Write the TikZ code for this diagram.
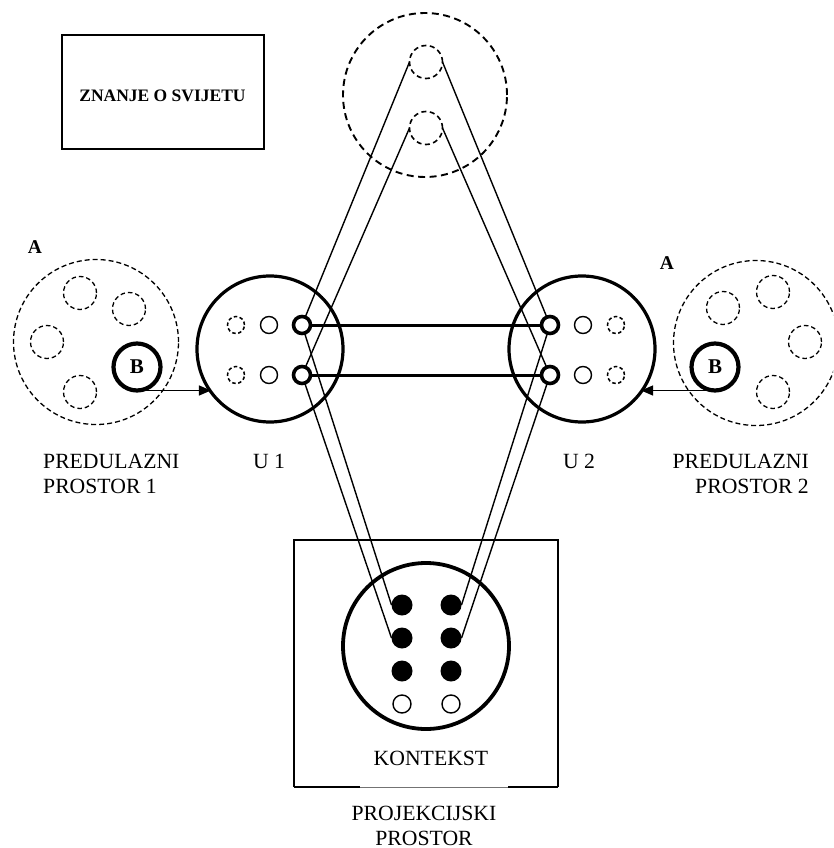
\documentclass[tikz,border=0pt]{standalone}
\usepackage{fontspec}
\setmainfont{Liberation Serif}
\usetikzlibrary{arrows.meta}
\begin{document}
\begin{tikzpicture}[x=1pt,y=-1pt,
  link/.style={line width=1.4pt},
  bond/.style={line width=3pt},
  feed/.style={line width=1.3pt,-{Triangle[length=12pt,width=10pt]}},
  ucirc/.style={circle,draw,line width=3.2pt,minimum size=146pt,inner sep=0pt,outer sep=0pt},
  kcirc/.style={circle,draw,line width=3.8pt,minimum size=166pt,inner sep=0pt,outer sep=0pt},
  ring/.style={circle,draw,line width=3.6pt,minimum size=17pt,inner sep=0pt,outer sep=0pt},
  hollow/.style={circle,draw,line width=1.4pt,minimum size=17pt,inner sep=0pt,outer sep=0pt},
  ghost/.style={circle,draw,line width=1.5pt,dash pattern=on 3.5pt off 2.5pt,minimum size=17pt,inner sep=0pt,outer sep=0pt},
  dotk/.style={circle,fill=black,minimum size=21pt,inner sep=0pt,outer sep=0pt},
  space/.style={circle,draw,line width=1.3pt,dash pattern=on 5pt off 3pt,minimum size=165pt,inner sep=0pt,outer sep=0pt},
  spot/.style={circle,draw,line width=1.3pt,dash pattern=on 4.5pt off 3pt,minimum size=33pt,inner sep=0pt,outer sep=0pt},
  world/.style={circle,draw,line width=1.9pt,dash pattern=on 7pt off 4.5pt,minimum size=164pt,inner sep=0pt,outer sep=0pt},
  wspot/.style={circle,draw,line width=1.6pt,dash pattern=on 5pt off 3.5pt,minimum size=33pt,inner sep=0pt,outer sep=0pt},
  bcirc/.style={circle,draw,line width=4.2pt,minimum size=47pt,inner sep=0pt,outer sep=0pt,font=\fontsize{21}{23}\selectfont\bfseries},
  lbl/.style={inner sep=0pt,font=\fontsize{21.7}{25}\selectfont},
  blbl/.style={inner sep=0pt,font=\fontsize{19.5}{21}\selectfont\bfseries},
  frame/.style={line width=1.4pt}
]
\useasboundingbox (0,0) rectangle (833,848);
\clip (0,0) rectangle (833,848);

% knowledge-of-the-world box
\node[draw,frame,minimum width=202pt,minimum height=114pt,inner sep=0pt] (znanje) at (163,92) {};
\node[inner sep=0pt,font=\fontsize{17.5}{20}\selectfont\bfseries,anchor=base] (znanjet) at (162.5,102) {ZNANJE O SVIJETU};

% generic space at the top
\node[world] (gen) at (425,95) {};
\node[wspot] (g1) at (426,62) {};
\node[wspot] (g2) at (426,128) {};

% input space 1
\node[space] (s1) at (96,342) {};
\node[spot] (s1a) at (80,293) {};
\node[spot] (s1b) at (129,309) {};
\node[spot] (s1c) at (47,342) {};
\node[spot] (s1d) at (80,392) {};
\node[bcirc] (b1) at (137,367) {B};
\node[blbl,anchor=base] (a1) at (35,253) {A};

% input space 2
\node[space] (s2) at (756,343) {};
\node[spot] (s2a) at (773,292) {};
\node[spot] (s2b) at (723,308) {};
\node[spot] (s2c) at (805,342) {};
\node[spot] (s2d) at (773,392) {};
\node[bcirc] (b2) at (715,367) {B};
\node[blbl,anchor=base] (a2) at (667,269) {A};

% U 1
\node[ucirc] (u1) at (270,349) {};
\node[ghost] (u1g1) at (236,325) {};
\node[ghost] (u1g2) at (236,375) {};
\node[hollow] (u1h1) at (269,325) {};
\node[hollow] (u1h2) at (269,375) {};
\node[ring] (u1r1) at (302,325) {};
\node[ring] (u1r2) at (302,375) {};

% U 2
\node[ucirc] (u2) at (582,349) {};
\node[ring] (u2r1) at (550,325) {};
\node[ring] (u2r2) at (550,375) {};
\node[hollow] (u2h1) at (583,325) {};
\node[hollow] (u2h2) at (583,375) {};
\node[ghost] (u2g1) at (616,325) {};
\node[ghost] (u2g2) at (616,375) {};

% projection space with context
\node[minimum width=264pt,minimum height=247pt,inner sep=0pt,outer sep=0pt] (proj) at (426,663.5) {};
\draw[frame] (proj.south west) -- (proj.north west) -- (proj.north east) -- (proj.south east);
\coordinate (pb1) at (360,787);
\coordinate (pb2) at (508,787);
\draw[frame] (proj.south west) -- (pb1);
\draw[frame] (pb2) -- (proj.south east);
\draw[line width=1pt,black!55] (pb1) -- (pb2);

\node[kcirc] (kon) at (426,646) {};
\node[dotk] (k1) at (402,605) {};
\node[dotk] (k2) at (402,638) {};
\node[dotk] (k3) at (402,671) {};
\node[hollow,minimum size=18pt] (k4) at (402,704) {};
\node[dotk] (k5) at (451,605) {};
\node[dotk] (k6) at (451,638) {};
\node[dotk] (k7) at (451,671) {};
\node[hollow,minimum size=18pt] (k8) at (451,704) {};

% connectors
\draw[link] (g1.west) -- (u1r1);
\draw[link] (g2.west) -- (u1r2);
\draw[link] (g1.east) -- (u2r1);
\draw[link] (g2.east) -- (u2r2);
\draw[bond] (u1r1) -- (u2r1);
\draw[bond] (u1r2) -- (u2r2);
\draw[link] (u1r1) -- (k1.west);
\draw[link] (u1r2) -- (k2.west);
\draw[link] (u2r1) -- (k5.east);
\draw[link] (u2r2) -- (k6.east);
\draw[feed] (b1.south) -- (b1.south -| u1.216);
\draw[feed] (b2.south) -- (b2.south -| u2.-36);

% labels
\node[lbl,anchor=base west] (p1a) at (43,468) {PREDULAZNI};
\node[lbl,anchor=base west] (p1b) at (43,493) {PROSTOR 1};
\node[lbl,anchor=base] (u1t) at (269,468) {U 1};
\node[lbl,anchor=base] (u2t) at (579,468) {U 2};
\node[lbl,anchor=base east] (p2a) at (809,468) {PREDULAZNI};
\node[lbl,anchor=base east] (p2b) at (809,493) {PROSTOR 2};
\node[lbl,anchor=base] (kt) at (431,765) {KONTEKST};
\node[lbl,anchor=base] (pja) at (424,820) {PROJEKCIJSKI};
\node[lbl,anchor=base] (pjb) at (424,845) {PROSTOR};
\end{tikzpicture}
\end{document}
